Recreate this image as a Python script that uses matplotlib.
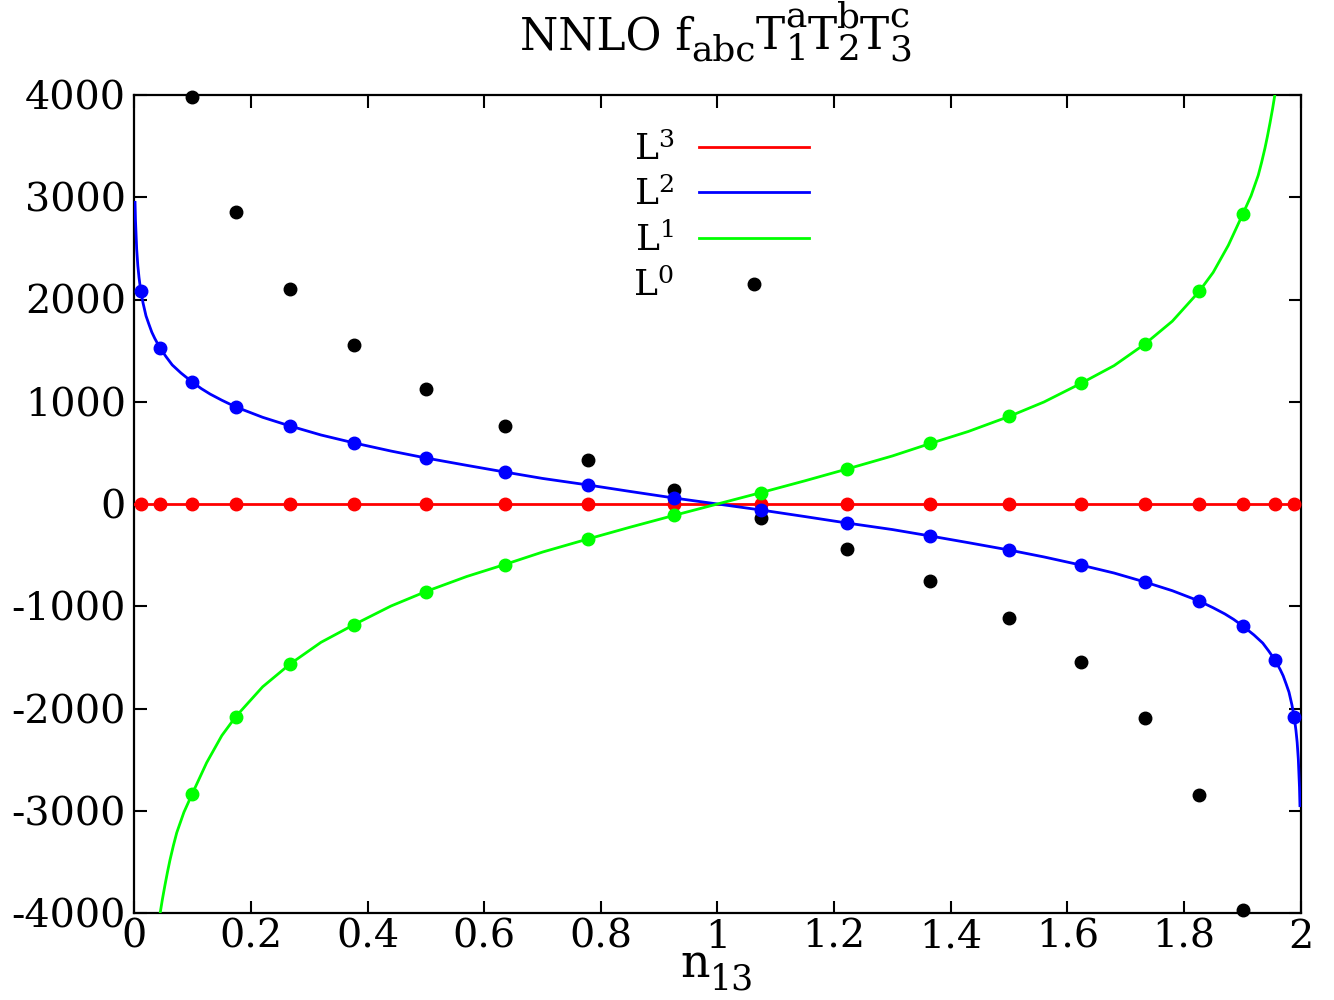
import matplotlib
matplotlib.use("Agg")
import matplotlib.pyplot as plt
from matplotlib.transforms import IdentityTransform

# sample points (n13 nodes)
x_nodes = [0.011, 0.044, 0.099, 0.174, 0.267, 0.377, 0.5, 0.635, 0.778, 0.925,
           1.075, 1.222, 1.365, 1.5, 1.623, 1.733, 1.826, 1.901, 1.956, 1.989]
red_pts = [0, 0, 0, 0, 0, 0, 0, 0, 0, 0, 0, 0, 0, 0, 0, 0, 0, 0, 0, 0]
blue_pts = [2084, 1526, 1194, 949, 763, 597, 450, 313, 186, 59,
            -59, -186, -313, -450, -597, -763, -949, -1194, -1526, -2084]

x_inner = [0.099, 0.174, 0.267, 0.377, 0.5, 0.635, 0.778, 0.925,
           1.075, 1.222, 1.365, 1.5, 1.623, 1.733, 1.826, 1.901]
green_pts = [-2838, -2079, -1565, -1179, -856, -592, -342, -112,
             112, 342, 592, 856, 1179, 1565, 2079, 2838]
black_pts = [3980, 2857, 2104, 1556, 1125, 763, 431, 137,
             -137, -440, -753, -1115, -1546, -2094, -2847, -3973]

# fitted curves
red_x = [0, 2]
red_y = [0, 0]

blue_x = [0.0012, 0.002, 0.004, 0.006, 0.008, 0.011, 0.015, 0.02, 0.025, 0.03,
          0.035, 0.044, 0.055, 0.065, 0.08, 0.099, 0.115, 0.13, 0.15, 0.174,
          0.22, 0.267, 0.32, 0.377, 0.44, 0.5, 0.57, 0.635, 0.7, 0.778,
          0.85, 0.925, 1.0,
          1.075, 1.15, 1.222, 1.3, 1.365, 1.43, 1.5, 1.56, 1.623, 1.68,
          1.733, 1.78, 1.826, 1.85, 1.87, 1.885, 1.901, 1.92, 1.935, 1.945,
          1.956, 1.965, 1.97, 1.975, 1.98, 1.985, 1.989, 1.992, 1.994, 1.996,
          1.998, 1.9988]
blue_y = [2950, 2770, 2495, 2330, 2217, 2084, 1964, 1840, 1758, 1680,
          1620, 1526, 1436, 1360, 1281, 1194, 1128, 1075, 1015, 949,
          848, 763, 675, 597, 518, 450, 378, 313, 250, 186,
          123, 59, 0,
          -59, -123, -186, -250, -313, -378, -450, -518, -597, -675,
          -763, -848, -949, -1015, -1075, -1128, -1194, -1281, -1360, -1436,
          -1526, -1620, -1680, -1758, -1840, -1964, -2084, -2217, -2330, -2495,
          -2770, -2950]

green_x = [0.0443, 0.048, 0.0526, 0.057, 0.0612, 0.067, 0.0727, 0.085, 0.099, 0.124,
           0.15, 0.174, 0.22, 0.267, 0.32, 0.377, 0.44, 0.5, 0.57, 0.635,
           0.7, 0.778, 0.85, 0.925, 1.0,
           1.075, 1.15, 1.222, 1.3, 1.365, 1.43, 1.5, 1.56, 1.623, 1.68,
           1.733, 1.78, 1.826, 1.85, 1.876, 1.901, 1.915, 1.9273, 1.933, 1.9388,
           1.943, 1.9474, 1.952, 1.9557]
green_y = [-4000, -3870, -3725, -3595, -3480, -3340, -3215, -3015, -2838, -2530,
           -2265, -2079, -1788, -1565, -1353, -1179, -998, -856, -709, -592,
           -470, -342, -227, -112, 0,
           112, 227, 342, 470, 592, 709, 856, 998, 1179, 1353,
           1565, 1788, 2079, 2265, 2530, 2838, 3015, 3215, 3340, 3480,
           3595, 3725, 3870, 4000]

xticks = [0, 0.2, 0.4, 0.6, 0.8, 1, 1.2, 1.4, 1.6, 1.8, 2]
xtick_labels = ["0", "0.2", "0.4", "0.6", "0.8", "1", "1.2", "1.4", "1.6", "1.8", "2"]
yticks = [-4000, -3000, -2000, -1000, 0, 1000, 2000, 3000, 4000]

title_parts = ["NNLO f", (None, "abc"), "T", ("a", "1"), "T", ("b", "2"), "T", ("c", "3")]
xlabel_parts = ["n", (None, "13")]
legend_labels = [r"$\mathrm{L^3}$", r"$\mathrm{L^2}$", r"$\mathrm{L^1}$", r"$\mathrm{L^0}$"]

plt.rcParams["font.family"] = "DejaVu Serif"
plt.rcParams["mathtext.fontset"] = "dejavuserif"
plt.rcParams["axes.unicode_minus"] = False


def rich_text(fig, cx, y, parts, size, script_size, sub_dy, sup_dy):
    # gnuplot-like enhanced text: big scripts, sup/sub stacked at same x (pixel coords)
    r = fig.canvas.get_renderer()
    items = []
    for p in parts:
        if isinstance(p, str):
            t = fig.text(0, y, p, fontsize=size, transform=IdentityTransform(), va="baseline")
            items.append(([t], t.get_window_extent(r).width))
        else:
            group, w = [], 0
            for s, dy in ((p[0], sup_dy), (p[1], sub_dy)):
                if s:
                    t = fig.text(0, y + dy, s, fontsize=script_size,
                                 transform=IdentityTransform(), va="baseline")
                    group.append(t)
                    w = max(w, t.get_window_extent(r).width)
            items.append((group, w))
    x = cx - sum(w for _, w in items) / 2
    for group, w in items:
        for t in group:
            t.set_x(x)
        x += w


fig = plt.figure(figsize=(13.34, 10), dpi=100)
ax = fig.add_axes([0.1007, 0.087, 0.8743, 0.818])

lw = 2.0
ms = 9
ax.plot(x_inner, black_pts, "o", color="black", ms=ms, clip_on=False, zorder=2)
ax.plot(red_x, red_y, "-", color="#ff0000", lw=lw, zorder=3)
ax.plot(x_nodes, red_pts, "o", color="#ff0000", ms=ms, clip_on=False, zorder=3)
ax.plot(blue_x, blue_y, "-", color="#0000ff", lw=lw, zorder=4)
ax.plot(x_nodes, blue_pts, "o", color="#0000ff", ms=ms, clip_on=False, zorder=4)
ax.plot(green_x, green_y, "-", color="#00ff00", lw=lw, zorder=5)
ax.plot(x_inner, green_pts, "o", color="#00ff00", ms=ms, clip_on=False, zorder=5)

# legend proxies
h3, = ax.plot([], [], "-", color="#ff0000", lw=lw)
h2, = ax.plot([], [], "-", color="#0000ff", lw=lw)
h1, = ax.plot([], [], "-", color="#00ff00", lw=lw)
h0, = ax.plot([], [], "o", color="black", ms=ms)
leg = ax.legend([h3, h2, h1, h0], legend_labels,
                loc="center", bbox_to_anchor=(0.503, 0.850), frameon=False, markerfirst=False,
                fontsize=26, handlelength=3.05, handletextpad=0.68, labelspacing=0.29,
                borderpad=0, borderaxespad=0)

ax.set_xlim(0, 2)
ax.set_ylim(-4000, 4000)
ax.set_xticks(xticks)
ax.set_xticklabels(xtick_labels)
ax.set_yticks(yticks)
ax.tick_params(direction="in", length=9, width=1.5, top=True, right=True,
               labelsize=28.5)
ax.tick_params(axis="x", pad=4)
ax.tick_params(axis="y", pad=6)
for s in ax.spines.values():
    s.set_linewidth(1.6)

rich_text(fig, 716, 950.7, title_parts, 31.5, 25.8, -11, 22)
rich_text(fig, 717, 23, xlabel_parts, 33, 25, -13, 0)

fig.savefig("out.png", dpi=100)
